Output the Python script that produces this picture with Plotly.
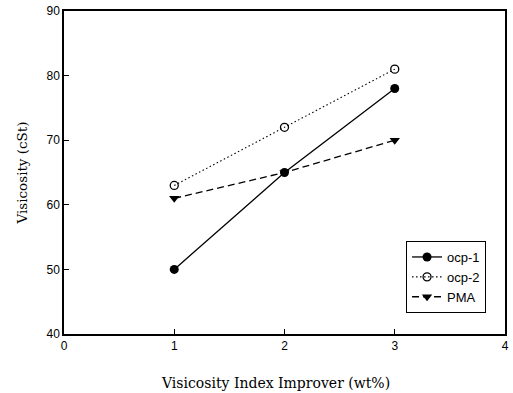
import plotly.graph_objects as go

# Viscosity vs. VI improver concentration
concentration = [1, 2, 3]
ocp1 = [50, 65, 78]
ocp2 = [63, 72, 81]
pma = [61, 65, 70]

x_ticks = [0, 1, 2, 3, 4]
y_ticks = [40, 50, 60, 70, 80, 90]

fig = go.Figure()

fig.add_trace(go.Scatter(
    x=concentration, y=ocp1, name="ocp-1", mode="lines+markers",
    line=dict(color="black", width=1.3, dash="solid"),
    marker=dict(symbol="circle", size=9, color="black"),
))
fig.add_trace(go.Scatter(
    x=concentration, y=ocp2, name="ocp-2", mode="lines+markers",
    line=dict(color="black", width=1.1, dash="1.5px,2.5px"),
    marker=dict(symbol="circle-open", size=8, color="black", line=dict(width=1.3)),
))
fig.add_trace(go.Scatter(
    x=concentration, y=pma, name="PMA", mode="lines+markers",
    line=dict(color="black", width=1.3, dash="7px,4px"),
    marker=dict(symbol="triangle-down", size=9, color="black"),
))

tick_font = dict(family="Liberation Sans, Arial", size=12, color="black")
title_font = dict(family="DejaVu Serif, Liberation Serif", size=14, color="black")

fig.update_layout(
    width=513, height=393,
    margin=dict(l=64, r=4, t=10, b=59),
    paper_bgcolor="white", plot_bgcolor="white",
    showlegend=True,
    legend=dict(
        x=0.957, y=0.065, xanchor="right", yanchor="bottom",
        bgcolor="white", bordercolor="black", borderwidth=1,
        font=dict(family="Liberation Sans, Arial", size=13, color="black"),
        tracegroupgap=0, itemwidth=30,
    ),
    xaxis=dict(
        range=[0, 4], tickvals=x_ticks, ticktext=[str(v) for v in x_ticks],
        ticks="inside", ticklen=5, tickcolor="black",
        showline=True, linecolor="black", linewidth=1.5, mirror=True,
        showgrid=False, zeroline=False, tickfont=tick_font,
    ),
    yaxis=dict(
        range=[40, 90], tickvals=y_ticks, ticktext=[str(v) for v in y_ticks],
        ticks="inside", ticklen=5, tickcolor="black",
        showline=True, linecolor="black", linewidth=1.5, mirror=True,
        showgrid=False, zeroline=False, tickfont=tick_font,
        title=dict(text="Visicosity (cSt)",
                   font=dict(family="DejaVu Serif, Liberation Serif", size=13.5, color="black"),
                   standoff=16),
    ),
    annotations=[dict(
        text="Visicosity Index Improver (wt%)", font=title_font,
        xref="paper", yref="paper", x=0.479, y=-0.151,
        xanchor="center", yanchor="middle", showarrow=False,
    )],
)

fig.write_html("out.html")
